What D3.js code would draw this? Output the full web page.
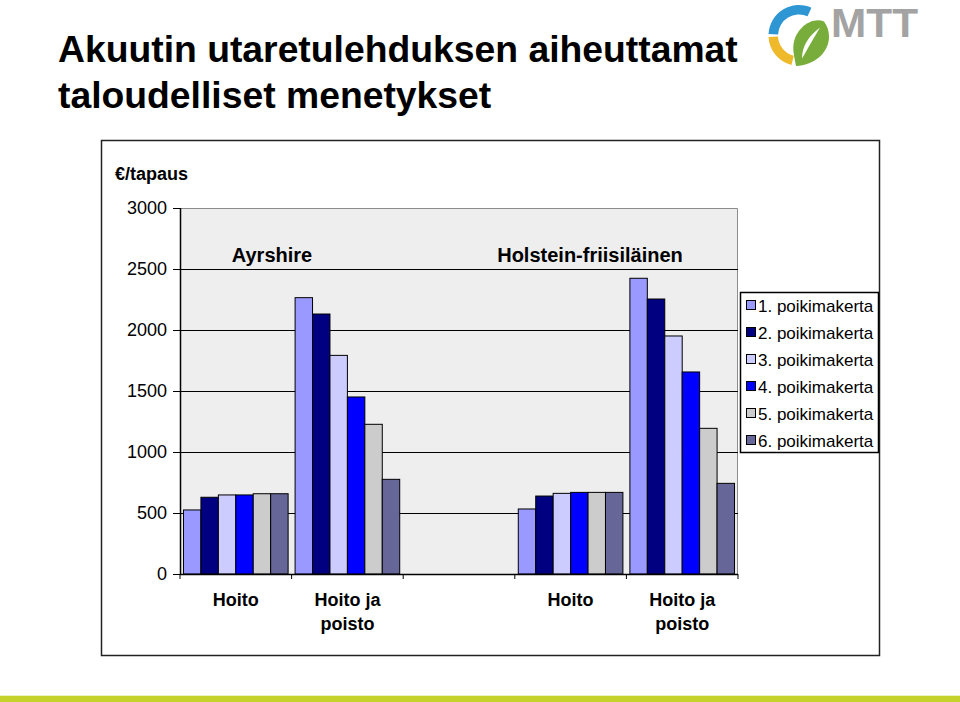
<!DOCTYPE html>
<html>
<head>
<meta charset="utf-8">
<script src="https://cdn.jsdelivr.net/npm/d3@7"></script>
<style>
  html, body { margin: 0; padding: 0; background: #fff; }
  svg { display: block; font-family: "Liberation Sans", Arial, Helvetica, sans-serif; }
</style>
</head>
<body>
<svg id="chart" width="960" height="702"></svg>
<script>
// ---- data ----
const titleLines = ["Akuutin utaretulehduksen aiheuttamat", "taloudelliset menetykset"];
const yUnit = "€/tapaus";
const breeds = ["Ayrshire", "Holstein-friisiläinen"];
const categoryKeys = ["A-Hoito", "A-Poisto", "gap", "H-Hoito", "H-Poisto"];
const categoryLabels = [["Hoito"], ["Hoito ja", "poisto"], [], ["Hoito"], ["Hoito ja", "poisto"]];
const seriesNames = ["1. poikimakerta", "2. poikimakerta", "3. poikimakerta", "4. poikimakerta", "5. poikimakerta", "6. poikimakerta"];
const seriesColors = ["#9999ff", "#000080", "#ccccff", "#0000ff", "#cccccc", "#666699"];
const ayrshireHoito = [525, 629, 648, 648, 658, 658];
const ayrshirePoisto = [2265, 2131, 1792, 1451, 1227, 776];
const holsteinHoito = [533, 639, 661, 669, 669, 669];
const holsteinPoisto = [2424, 2254, 1951, 1656, 1194, 743];
const yTicks = [0, 500, 1000, 1500, 2000, 2500, 3000];

const valuesByCategory = {
  "A-Hoito": ayrshireHoito,
  "A-Poisto": ayrshirePoisto,
  "gap": [],
  "H-Hoito": holsteinHoito,
  "H-Poisto": holsteinPoisto
};

// ---- layout ----
const svg = d3.select("#chart");
const plot = { left: 180, right: 738, top: 208, bottom: 574 };

// bottom band
svg.append("rect").attr("x", 0).attr("y", 695).attr("width", 960).attr("height", 1).attr("fill", "#eef3c4");
svg.append("rect").attr("x", 0).attr("y", 696).attr("width", 960).attr("height", 6).attr("fill", "#c6d22c");

// title
const title = svg.append("g").attr("font-weight", "bold").attr("fill", "#000");
const t1 = title.append("text").attr("x", 58).attr("y", 62).attr("font-size", 34).text(titleLines[0]);
const w1 = t1.node().getComputedTextLength();
const fs = 34 * 680 / w1;
t1.attr("font-size", fs);
title.append("text").attr("x", 58).attr("y", 108).attr("font-size", fs).text(titleLines[1]);

// logo
const logo = svg.append("g").attr("transform", "translate(799,35.5)");
const arc = d3.arc().innerRadius(21).outerRadius(30.5);
logo.append("path").attr("d", arc({ startAngle: -Math.PI / 2 + 0.05, endAngle: 0.42 })).attr("fill", "#2e97d3");
logo.append("path").attr("d", arc({ startAngle: -Math.PI + 0.25, endAngle: -Math.PI / 2 - 0.05 })).attr("fill", "#efb92c");
logo.append("path")
  .attr("d", "M-3,30.5 C 14,30 30,18 30,1 C 30,-5 28,-10 25,-14 C 18,-17 9,-14 3,-8 C -5,0 -7,9 -5,20 Z")
  .attr("fill", "#78ad3c");
logo.append("path")
  .attr("d", "M3,23 C 3,11 9,1 21,-8 C 15,2 10,11 3,23 Z")
  .attr("fill", "#ffffff");
svg.append("text").attr("x", 831).attr("y", 37).attr("font-size", 40).attr("font-weight", "bold")
  .attr("fill", "#a3a3a3").attr("textLength", 87).attr("lengthAdjust", "spacingAndGlyphs").text("MTT");

// chart frame
svg.append("rect").attr("x", 101.5).attr("y", 140.5).attr("width", 778).attr("height", 515)
  .attr("fill", "#fff").attr("stroke", "#222").attr("stroke-width", 1.5);

// scales
const x = d3.scaleBand().domain(categoryKeys).range([plot.left, plot.right]).paddingInner(0).paddingOuter(0);
const xs = d3.scaleBand().domain(d3.range(seriesNames.length)).range([0, x.bandwidth()]).paddingInner(0).paddingOuter(0.2);
const y = d3.scaleLinear().domain([0, 3000]).range([plot.bottom, plot.top]);

// plot background
svg.append("rect").attr("x", plot.left).attr("y", plot.top)
  .attr("width", plot.right - plot.left).attr("height", plot.bottom - plot.top)
  .attr("fill", "#eeeeee");
svg.append("path")
  .attr("d", `M${plot.left},${plot.top + 0.5}H${plot.right - 0.5}V${plot.bottom}`)
  .attr("fill", "none").attr("stroke", "#8c8c8c").attr("stroke-width", 1);

// gridlines
svg.append("g").selectAll("line").data(yTicks.filter(d => d > 0 && d < 3000)).join("line")
  .attr("x1", plot.left).attr("x2", plot.right)
  .attr("y1", d => Math.round(y(d)) + 0.5).attr("y2", d => Math.round(y(d)) + 0.5)
  .attr("stroke", "#000").attr("stroke-width", 1);

// group labels
svg.append("text").attr("x", 272).attr("y", 262).attr("text-anchor", "middle")
  .attr("font-size", 20).attr("font-weight", "bold").attr("fill", "#000").text(breeds[0]);
svg.append("text").attr("x", 590).attr("y", 262).attr("text-anchor", "middle")
  .attr("font-size", 20).attr("font-weight", "bold").attr("fill", "#000").text(breeds[1]);

// bars
const catG = svg.append("g").selectAll("g").data(categoryKeys).join("g")
  .attr("transform", d => `translate(${x(d)},0)`);
catG.selectAll("rect").data(d => valuesByCategory[d].map((v, i) => ({ v, i }))).join("rect")
  .attr("x", d => xs(d.i))
  .attr("width", xs.bandwidth())
  .attr("y", d => y(d.v))
  .attr("height", d => y(0) - y(d.v))
  .attr("fill", d => seriesColors[d.i])
  .attr("stroke", "#000").attr("stroke-width", 1);

// y axis
const yAxis = svg.append("g").attr("transform", `translate(${plot.left},0)`)
  .call(d3.axisLeft(y).tickValues(yTicks).tickSize(7).tickPadding(6).tickFormat(d3.format("d")));
yAxis.selectAll("text").attr("font-size", 18).attr("fill", "#000").attr("font-family", "Liberation Sans, Arial, sans-serif");
yAxis.selectAll("line").attr("stroke", "#000");
yAxis.select(".domain").attr("stroke", "#000").attr("stroke-width", 1.5).attr("d", `M0.5,${plot.top}V${plot.bottom}`);

// unit label
svg.append("text").attr("x", 115).attr("y", 180).attr("font-size", 18).attr("font-weight", "bold")
  .attr("fill", "#000").text(yUnit);

// x axis
svg.append("line").attr("x1", plot.left).attr("x2", plot.right)
  .attr("y1", plot.bottom + 0.5).attr("y2", plot.bottom + 0.5)
  .attr("stroke", "#000").attr("stroke-width", 1.5);
const boundaries = categoryKeys.map(k => x(k)).concat([x.range()[1]]);
svg.append("g").selectAll("line").data(boundaries).join("line")
  .attr("x1", d => d).attr("x2", d => d)
  .attr("y1", plot.bottom).attr("y2", plot.bottom + 5)
  .attr("stroke", "#000").attr("stroke-width", 1);
const xl = svg.append("g").selectAll("text").data(categoryKeys).join("text")
  .attr("x", d => x(d) + x.bandwidth() / 2)
  .attr("y", 606)
  .attr("text-anchor", "middle").attr("font-size", 18).attr("font-weight", "bold").attr("fill", "#000");
xl.selectAll("tspan").data((d, i) => categoryLabels[i]).join("tspan")
  .attr("x", function () { return d3.select(this.parentNode).attr("x"); })
  .attr("dy", (d, i) => i === 0 ? 0 : 24)
  .text(d => d);

// legend
const lg = svg.append("g").attr("transform", "translate(740,292)");
lg.append("rect").attr("x", 0.5).attr("y", 0.5).attr("width", 138).attr("height", 160)
  .attr("fill", "#fff").attr("stroke", "#000").attr("stroke-width", 1.5);
const items = lg.selectAll("g.item").data(seriesNames).join("g").attr("class", "item")
  .attr("transform", (d, i) => `translate(0,${14 + i * 27})`);
items.append("rect").attr("x", 6.5).attr("y", -5.5).attr("width", 9).attr("height", 9)
  .attr("fill", (d, i) => seriesColors[i]).attr("stroke", "#000").attr("stroke-width", 1);
items.append("text").attr("x", 18).attr("y", 5.5).attr("font-size", 17).attr("fill", "#000").text(d => d);
</script>
</body>
</html>
